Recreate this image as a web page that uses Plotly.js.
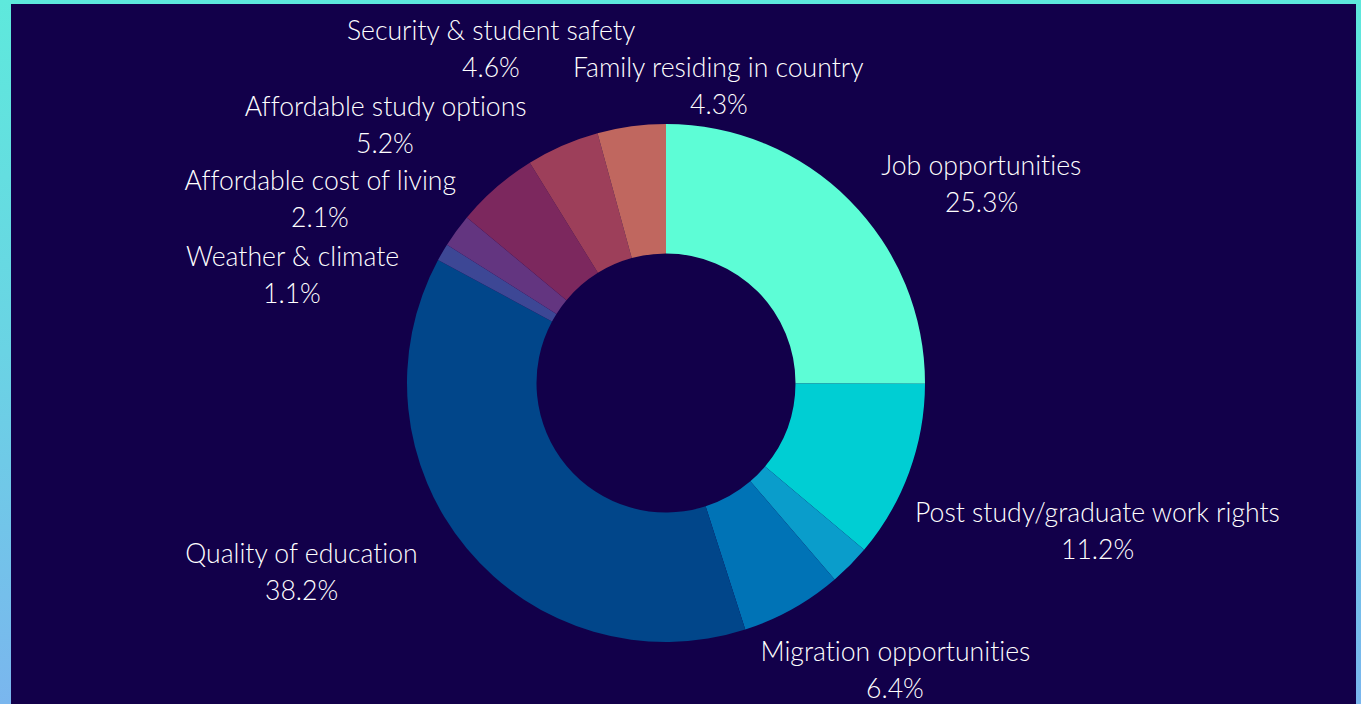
<!DOCTYPE html>
<html>
<head>
<meta charset="utf-8">
<script src="https://cdn.plot.ly/plotly-3.0.1.min.js"></script>
<style>
  html, body { margin: 0; padding: 0; width: 1361px; height: 704px; overflow: hidden; }
  #frame { position: absolute; left: 0; top: 0; width: 1361px; height: 704px;
           background: linear-gradient(to bottom, #5ee9dc 0%, #6ad3e4 50%, #7ab6ee 100%); }
  #chart { position: absolute; left: 11px; top: 4px; width: 1345px; height: 700px; background: #12004a; }
  #chart text { font-variant-ligatures: none; font-feature-settings: "liga" 0; }
</style>
</head>
<body>
<div id="frame"><div id="chart"></div></div>
<script>
const categories = [
  "Job opportunities",
  "Post study/graduate work rights",
  "Other",
  "Migration opportunities",
  "Quality of education",
  "Weather & climate",
  "Affordable cost of living",
  "Affordable study options",
  "Security & student safety",
  "Family residing in country"
];
const shares = [25.3, 11.2, 2.6, 6.4, 38.2, 1.1, 2.1, 5.2, 4.6, 4.3];
const showLabel = [true, true, false, true, true, true, true, true, true, true];
const sliceColors = ["#5dfdd6", "#00ced3", "#0a9dcb", "#0073b6", "#01468a",
                     "#3d4795", "#633580", "#7c285e", "#9d3f5a", "#c0675f"];

// label anchor positions (page pixels: centre x, name-line centre y), not data
const labelPos = [
  [981, 165], [1097, 512], null, [895, 651], [301, 553],
  [292, 256], [320, 180], [385, 106], [491, 30], [719, 67]
];

const W = 1345, H = 700, OFFX = 11, OFFY = 4;
const M = { l: 0, r: 35, t: 120, b: 62 };
const px2x = X => (X - OFFX - M.l) / (W - M.l - M.r);
const px2y = Y => 1 - (Y - OFFY - M.t) / (H - M.t - M.b);
const LINE_GAP = 37;
const labelFont = { family: "Lato, sans-serif", size: 26.6, color: "#ffffff", weight: 300 };

const annotations = [];
categories.forEach((name, i) => {
  if (!showLabel[i] || !labelPos[i]) return;
  const [cx, cy] = labelPos[i];
  annotations.push({
    xref: "paper", yref: "paper", x: px2x(cx), y: px2y(cy),
    xanchor: "center", yanchor: "middle", showarrow: false,
    text: name, font: labelFont
  });
  annotations.push({
    xref: "paper", yref: "paper", x: px2x(cx), y: px2y(cy + LINE_GAP),
    xanchor: "center", yanchor: "middle", showarrow: false,
    text: shares[i].toFixed(1) + "%", font: labelFont
  });
});

const trace = {
  type: "pie",
  labels: categories,
  values: shares,
  hole: 0.5,
  sort: false,
  direction: "clockwise",
  rotation: 0,
  marker: { colors: sliceColors, line: { width: 0 } },
  textinfo: "none",
  hoverinfo: "label+value",
  showlegend: false
};

const layout = {
  width: W, height: H,
  paper_bgcolor: "#12004a",
  plot_bgcolor: "#12004a",
  margin: M,
  showlegend: false,
  annotations: annotations
};

Plotly.newPlot("chart", [trace], layout, { displayModeBar: false, staticPlot: true });
</script>
</body>
</html>
